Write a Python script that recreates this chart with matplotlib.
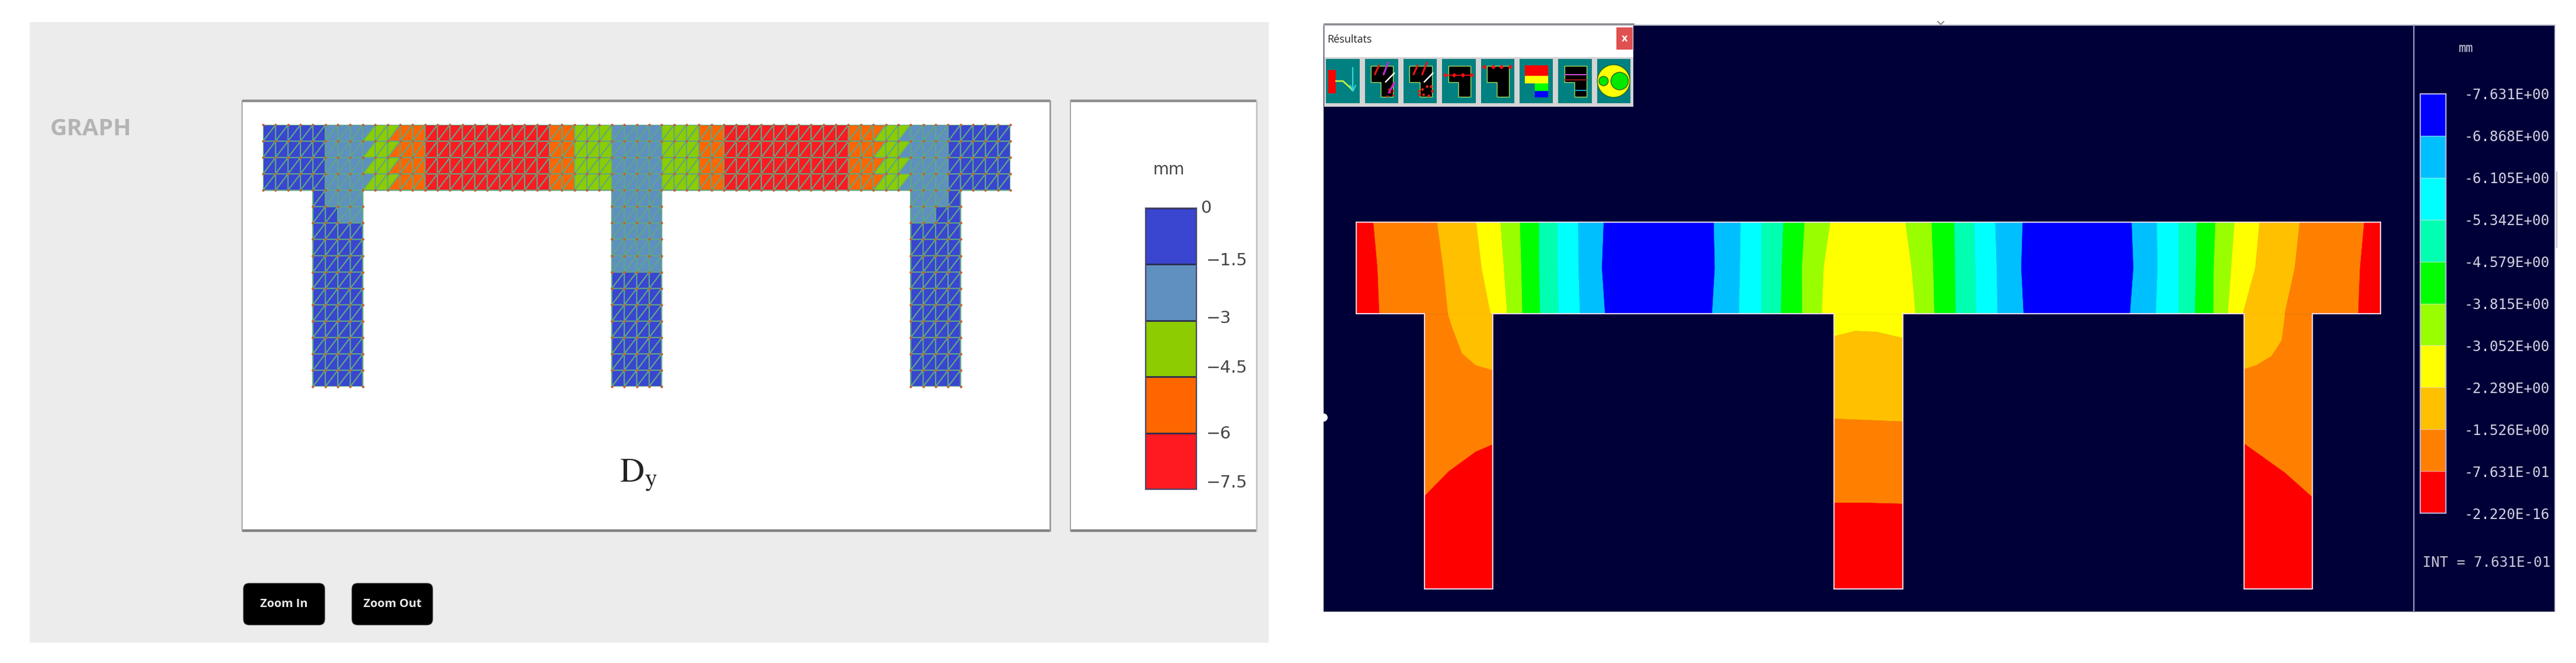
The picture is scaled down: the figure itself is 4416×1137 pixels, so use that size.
import numpy as np
import matplotlib
matplotlib.use("Agg")
import matplotlib.pyplot as plt
import matplotlib.tri as mtri
from matplotlib.colors import ListedColormap
from matplotlib.patches import Rectangle, FancyBboxPatch, Polygon, Circle

W, H = 4416, 1137
plt.rcParams['mathtext.fontset'] = 'stix'

# ---- left panel: coarse mesh, one band per triangle (0 = top of legend)
mesh_colors = ['#3a45d0', '#5f90c0', '#8ccc00', '#ff6600', '#ff1a22']
mesh_levels = [-7.5, -6, -4.5, -3, -1.5, 0]
mesh_labels = ['0', '\u22121.5', '\u22123', '\u22124.5', '\u22126', '\u22127.5']

# beam cells 0..59, upper-left and lower-right triangle of each cell
beam_upper = [0]*5 + [1]*4 + [2, 2] + [3]*2 + [4]*10 + [3]*2 + [2]*3 + [1]*4 + [2]*3 + [3]*2 + [4]*10 + [3]*3 + [2]*2 + [1]*3 + [0]*5
beam_lower = [0]*5 + [1]*3 + [2, 2, 3] + [3]*2 + [4]*10 + [3]*2 + [2]*3 + [1]*4 + [2]*3 + [3]*2 + [4]*10 + [3]*2 + [2, 2, 1] + [1]*3 + [0]*5
# column cells, rows listed from the foot (row 0) to the beam (row 11)
left_col_rows = [[0, 0, 0, 0]]*10 + [[0, 0, 1, 1], [0, 1, 1, 1]]
mid_col_rows = [[0, 0, 0, 0]]*7 + [[1, 1, 1, 1]]*5
right_col_rows = [[0, 0, 0, 0]]*10 + [[1, 1, 0, 0], [1, 1, 1, 0]]

# ---- right panel: contour fronts across the beam, at y = 16, 14, 12
contour_colors = ['#ff0000', '#ff8000', '#ffc000', '#ffff00', '#99ff00',
                  '#00ff00', '#00ffb0', '#00ffff', '#00bfff', '#0000ff']
contour_levels = [-7.631, -6.868, -6.105, -5.342, -4.579, -3.815, -3.052,
                  -2.289, -1.526, -0.7631, -2.220e-16]
front_top = [0, 1.01, 4.74, 7.03, 8.46, 9.6, 10.72, 11.79, 13.01, 14.5, 20.95, 22.52, 23.75, 25.03, 26.27, 27.77,
             32.18, 33.71, 35.03, 36.2, 37.44, 39.04, 45.43, 46.9, 48.18, 49.24, 50.33, 51.45, 52.92, 55.27, 59.05, 60]
front_mid = [0, 1.25, 5.1, 7.35, 8.66, 9.68, 10.72, 11.79, 13.03, 14.4, 21.01, 22.48, 23.75, 24.93, 26.11, 27.38,
             32.54, 33.81, 35.08, 36.26, 37.53, 38.96, 45.53, 46.94, 48.18, 49.2, 50.23, 51.25, 52.67, 54.98, 58.8, 60]
front_bot = [0, 1.36, 5.38, 7.87, 8.85, 9.74, 10.77, 11.85, 13.11, 14.58, 20.85, 22.42, 23.75, 24.89, 26.13, 27.28,
             32.77, 33.87, 35.12, 36.3, 37.57, 39.1, 45.33, 46.84, 48.18, 49.14, 50.22, 51.06, 51.94, 54.39, 58.7, 60]
beam_bands = [0, 1, 2, 3, 4, 5, 6, 7, 8, 9, 8, 7, 6, 5, 4, 3, 4, 5, 6, 7, 8, 9, 8, 7, 6, 5, 4, 3, 2, 1, 0]

# fronts inside the columns
left_oy_x = [5.38, 5.62, 6.21, 6.99, 8]
left_oy_y = [12, 11.42, 10.28, 9.77, 9.55]
left_red_x = [4, 5.43, 6.99, 8]
left_red_y = [4.05, 5.13, 5.98, 6.3]
right_oy_x = [54.39, 54.19, 53.6, 52.72, 52]
right_oy_y = [12, 10.85, 10.17, 9.77, 9.6]
right_red_x = [52, 54.39, 56]
right_red_y = [6.34, 5.07, 4.0]
mid_yellow_x = [28, 29.24, 30.48, 32]
mid_yellow_y = [11.02, 11.25, 11.21, 10.94]
mid_oy_x = [28, 30, 32]
mid_oy_y = [7.42, 7.36, 7.30]
mid_red_x = [28, 30, 32]
mid_red_y = [3.75, 3.75, 3.71]

outline_x = [0, 60, 60, 56, 56, 52, 52, 32, 32, 28, 28, 8, 8, 4, 4, 0, 0]
outline_y = [16, 16, 12, 12, 0, 0, 12, 12, 0, 0, 12, 12, 0, 0, 12, 12, 16]
column_starts = [4, 28, 52]

fig = plt.figure(figsize=(W/100, H/100), dpi=100, facecolor='white')

def px_axes(x0, y0, x1, y1):
    # axes placed by its pixel box (y counted from the top of the image)
    ax = fig.add_axes([x0/W, 1 - y1/H, (x1 - x0)/W, (y1 - y0)/H])
    ax.patch.set_alpha(0)
    return ax

def box(ax, x0, y0, x1, y1, color, **kw):
    ax.add_patch(Rectangle((x0, y0), x1 - x0, y1 - y0, facecolor=color, edgecolor='none', **kw))

ui = px_axes(0, 0, W, H)
ui.set_xlim(0, W)
ui.set_ylim(H, 0)
ui.axis('off')

# ---- left page
box(ui, 51, 38, 2175, 1102, '#ececec')
for x0, x1, edge in [(415, 1800, '#9a9a9a'), (1835, 2154, '#c4c4c4')]:
    box(ui, x0, 172, x1, 912, 'white')
    ui.plot([x0, x1], [173, 173], color='#8c8c8c', lw=3.2, solid_capstyle='butt')
    ui.plot([x0, x1], [910, 910], color='#808080', lw=3.2, solid_capstyle='butt')
    ui.plot([x0, x0], [173, 910], color='#a8a8a8', lw=1.5)
    ui.plot([x1, x1], [173, 910], color=edge, lw=2)
ui.text(86, 222, 'GRAPH', family='Open Sans', weight='bold', fontsize=29, color='#b4b4b4', va='center', ha='left')
ui.text(1094, 815, r'$\mathrm{D_y}$', fontsize=42, color='#222222', ha='center', va='center')

for x0, x1, label in [(417, 557, 'Zoom In'), (603, 742, 'Zoom Out')]:
    ui.add_patch(FancyBboxPatch((x0 + 8, 1008), x1 - x0 - 16, 56, boxstyle='round,pad=8,rounding_size=10',
                                facecolor='black', edgecolor='#777777', lw=0.6))
    ui.text((x0 + x1)/2, 1036, label, family='Open Sans', weight='bold', fontsize=14.5, color='#e8e8e8',
            ha='center', va='center')

# ---- mesh: two triangles per cell, diagonal from lower left to upper right
node_x, node_y = np.meshgrid(np.arange(61), np.arange(17))
node_id = lambda i, j: j*61 + i
triangles = []
bands = []

def add_cell(i, j, upper, lower):
    triangles.append([node_id(i, j), node_id(i + 1, j + 1), node_id(i, j + 1)])
    bands.append(upper)
    triangles.append([node_id(i, j), node_id(i + 1, j), node_id(i + 1, j + 1)])
    bands.append(lower)

for j in range(12, 16):
    for i in range(60):
        add_cell(i, j, beam_upper[i], beam_lower[i])
for start, rows in zip(column_starts, [left_col_rows, mid_col_rows, right_col_rows]):
    for j, row in enumerate(rows):
        for k, band in enumerate(row):
            add_cell(start + k, j, band, band)

tri = mtri.Triangulation(node_x.ravel(), node_y.ravel(), triangles)
used = np.unique(triangles)

mesh_ax = px_axes(451, 214, 1732, 663)
mesh_ax.set_xlim(0, 60)
mesh_ax.set_ylim(0, 16)
mesh_ax.axis('off')
mesh_ax.tripcolor(tri, facecolors=np.array(bands, dtype=float), cmap=ListedColormap(mesh_colors),
                  vmin=-0.5, vmax=4.5, edgecolors='face', linewidth=0.2)
mesh_ax.triplot(tri, color='#5ea884', lw=1.6, marker='None')
mesh_ax.plot(node_x.ravel()[used], node_y.ravel()[used], 'o', ms=3.2, mew=0, color='#c2603a', clip_on=False)

# ---- legend of the mesh
leg_ax = px_axes(1964, 357, 2051, 839)
leg_ax.pcolormesh([0, 1], mesh_levels, np.arange(5)[::-1][:, None], cmap=ListedColormap(mesh_colors),
                  vmin=-0.5, vmax=4.5, shading='flat')
leg_ax.hlines(mesh_levels, 0, 1, color='#2a2a50', lw=2)
leg_ax.set_xlim(0, 1)
leg_ax.set_ylim(-7.5, 0)
leg_ax.set_xticks([])
leg_ax.set_yticks([])
for s in leg_ax.spines.values():
    s.set_color('#444466')
    s.set_linewidth(1.6)
ui.text(2004, 291, 'mm', fontsize=20, color='#444444', ha='center', va='center')
label_y = [357, 447, 546, 631, 744, 828]
for text, y in zip(mesh_labels, label_y):
    ui.text(2058 if text == '0' else 2068, y, text, fontsize=21, color='#444444', ha='left', va='center')

# ---- right page, the solver window
box(ui, 2269, 43, 4380, 1049, '#000038')
ui.plot([2269, 4380], [43, 43], color='#b8b8cc', lw=1.5)
ui.plot([4138, 4138], [43, 1049], color='#9a9acb', lw=1.6)
ui.plot([4383, 4383], [295, 424], color='#c4c4c4', lw=1.5)
ui.plot([4380, 4380], [43, 1049], color='#d0d0e8', lw=1.2)
ui.plot([3322, 3327, 3332], [37, 42, 37], color='#888888', lw=1.5)
ui.add_patch(Circle((2269, 716), 7, facecolor='white', edgecolor='none'))

contour_ax = px_axes(2325, 381, 4081, 1010)
contour_ax.set_xlim(0, 60)
contour_ax.set_ylim(0, 16)
contour_ax.axis('off')
clip = Polygon(np.column_stack([outline_x, outline_y]), closed=True, transform=contour_ax.transData)

def fill_band(xs, ys, band):
    for p in contour_ax.fill(xs, ys, color=contour_colors[band], lw=0.4):
        p.set_clip_path(clip)

levels_y = [16, 14, 12]
for k, band in enumerate(beam_bands):
    a = [front_top[k], front_mid[k], front_bot[k]]
    b = [front_bot[k + 1], front_mid[k + 1], front_top[k + 1]]
    fill_band(a + b, levels_y + levels_y[::-1], band)

# columns, painted from the base colour upwards
fill_band([4, 8, 8, 4], [0, 0, 12, 12], 1)
fill_band(left_oy_x + [8], left_oy_y + [12], 2)
fill_band(left_red_x + [8, 4], left_red_y + [0, 0], 0)

fill_band([52, 56, 56, 52], [0, 0, 12, 12], 1)
fill_band(right_oy_x + [52], right_oy_y + [12], 2)
fill_band(right_red_x + [56, 52], right_red_y + [0, 0], 0)

fill_band(mid_yellow_x + [32, 28], mid_yellow_y + [12, 12], 3)
fill_band(mid_yellow_x + mid_oy_x[::-1], mid_yellow_y + mid_oy_y[::-1], 2)
fill_band(mid_oy_x + mid_red_x[::-1], mid_oy_y + mid_red_y[::-1], 1)
fill_band(mid_red_x + [32, 28], mid_red_y + [0, 0], 0)

contour_ax.plot(outline_x, outline_y, color='#f4dcf4', lw=1.4, clip_on=False, solid_joinstyle='miter')

# ---- colour bar of the contours
bar_ax = px_axes(4149, 161, 4193, 880)
bar_ax.pcolormesh([0, 1], contour_levels, np.arange(10)[::-1][:, None], cmap=ListedColormap(contour_colors),
                  vmin=-0.5, vmax=9.5, shading='flat')
bar_ax.hlines(contour_levels, 0, 1, color='#e0e0e0', lw=0.8, alpha=0.7)
bar_ax.set_xlim(0, 1)
bar_ax.set_ylim(contour_levels[-1], contour_levels[0])
bar_ax.set_xticks([])
bar_ax.set_yticks(contour_levels)
bar_ax.set_yticklabels([f'{v:.3E}' for v in contour_levels], family='DejaVu Sans Mono', fontsize=17.5, color='#d2d2e6')
bar_ax.yaxis.tick_right()
bar_ax.tick_params(axis='y', length=0, pad=23)
for s in bar_ax.spines.values():
    s.set_color('#b8b8f0')
    s.set_linewidth(1.4)
ui.text(4228, 83, 'mm', family='DejaVu Sans Mono', fontsize=15, color='#c8c8dc', ha='center', va='center')
ui.text(4372, 965, 'INT = 7.631E-01', family='DejaVu Sans Mono', fontsize=17.5, color='#c8c8dc', ha='right', va='center')

# ---- toolbar "Résultats"
box(ui, 2270, 40, 2800, 183, '#d4d4d4')
box(ui, 2270, 42, 2800, 98, 'white')
ui.plot([2270, 2800], [41, 41], color='#8a8a8a', lw=2)
ui.text(2275, 68, 'Résultats', family='Open Sans', fontsize=13, color='#222222', ha='left', va='center')
box(ui, 2771, 47, 2799, 85, '#e05050')
ui.text(2785, 66, 'x', family='Open Sans', weight='bold', fontsize=13, color='white', ha='center', va='center')

button_x = [2273.4 + 66.3*n for n in range(8)]
button_w, button_h, button_y = 57.4, 76, 101

def uv(n, u, v):
    return button_x[n] + np.asarray(u)*button_w, button_y + np.asarray(v)*button_h

def ell_icon(n):
    x, y = uv(n, [.18, .85, .85, .48, .48, .18], [.16, .16, .86, .86, .53, .53])
    ui.add_patch(Polygon(np.column_stack([x, y]), closed=True, facecolor='black', edgecolor='#a8e060', lw=1))

def stroke(n, u, v, color, lw=2):
    x, y = uv(n, u, v)
    ui.plot(x, y, color=color, lw=lw, solid_capstyle='round')

for n in range(8):
    box(ui, button_x[n], button_y, button_x[n] + button_w, button_y + button_h, '#008080')

# button 1: beam and deflection arrow
x, y = uv(0, .07, .25)
box(ui, x, y, x + .22*button_w, y + .52*button_h, '#ff0000')
stroke(0, [.29, .5, .72, .8], [.5, .5, .65, .72], '#c8f040', 2)
stroke(0, [.8, .8], [.2, .72], '#30d8e0', 1.6)
stroke(0, [.72, .8, .88], [.6, .72, .6], '#30d8e0', 1.6)
# buttons 2 and 3: stresses on the section
for n in [1, 2]:
    ell_icon(n)
    stroke(n, [.3, .42], [.35, .15], '#e01818', 2.4)
    stroke(n, [.56, .7], [.35, .08], '#b030d0' if n == 1 else '#e01818', 2.4)
    stroke(n, [.62, .88], [.52, .32], 'white', 1.8)
stroke(1, [.72, .88], [.76, .54], '#e020d0', 2.4)
x, y = uv(1, [.66, .75, .86, .72, .84], [.84, .75, .72, .68, .82])
ui.plot(x, y, 'o', ms=2.6, mew=0, color='#e02010')
x, y = uv(2, [.45, .55, .7, .85, .47, .6, .75, .82], [.72, .68, .62, .72, .8, .8, .83, .62])
ui.plot(x, y, 'o', ms=3.4, mew=0, color='#e02010')
# buttons 4 and 5: force arrows
ell_icon(3)
x, y = uv(3, [.1, .36, .62, .88], [.37]*4)
ui.plot(x, y, color='#ff1010', lw=1.2)
ui.plot(x, y, 'D', ms=4.2, mew=0, color='#ff1010')
ell_icon(4)
x, y = uv(4, [.12, .38, .62, .88], [.18]*4)
ui.plot(x, y, 'D', ms=4.2, mew=0, color='#ff1010')
# button 6: colour map
x0, _ = uv(5, .15, 0)
x1, _ = uv(5, .85, 0)
x2, _ = uv(5, .45, 0)
for v0, v1, col, left in [(.15, .38, '#ff0000', x0), (.38, .55, '#ffff00', x0),
                          (.55, .73, '#00ff00', x2), (.73, .87, '#0000ff', x2)]:
    box(ui, left, button_y + v0*button_h, x1, button_y + v1*button_h, col)
# button 7: section cuts
ell_icon(6)
stroke(6, [.18, .85], [.36, .36], '#d050e0', 1.4)
stroke(6, [.18, .85], [.47, .47], '#a01818', 1.4)
stroke(6, [.48, .85], [.71, .71], '#18a0c0', 1.4)
# button 8: Mohr circles
cx, cy = uv(7, .5, .5)
ui.add_patch(Circle((cx, cy), 28, facecolor='#ffff00', edgecolor='#226622', lw=1))
cx, cy = uv(7, .68, .5)
ui.add_patch(Circle((cx, cy), 15, facecolor='#00e800', edgecolor='#226622', lw=1))
cx, cy = uv(7, .2, .5)
ui.add_patch(Circle((cx, cy), 8, facecolor='#00e800', edgecolor='#226622', lw=1))

fig.savefig('out.png', dpi=100, facecolor='white')
